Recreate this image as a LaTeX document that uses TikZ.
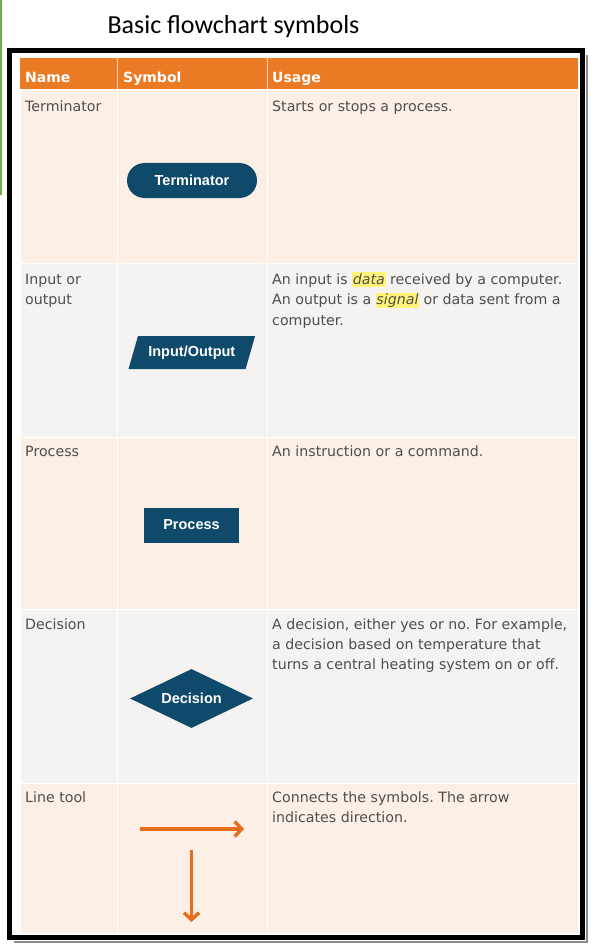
\documentclass[tikz,border=0pt]{standalone}
\usepackage{fontspec}
\setmainfont{DejaVu Sans}
\newfontfamily\titlefont{Carlito}
\newfontfamily\shapefont{Liberation Sans}
\usetikzlibrary{shapes.geometric,arrows.meta}
\frenchspacing
\definecolor{hdr}{RGB}{234,122,36}
\definecolor{peach}{RGB}{252,239,230}
\definecolor{lgray}{RGB}{244,243,241}
\definecolor{navy}{RGB}{16,74,106}
\definecolor{txt}{RGB}{78,78,78}
\definecolor{hly}{RGB}{255,244,120}
\definecolor{arrowc}{RGB}{232,110,30}
\definecolor{grn}{RGB}{112,173,71}
\newcommand\hlword[1]{{\setlength\fboxsep{0.6pt}\colorbox{hly}{\rule[-2pt]{0pt}{13.5pt}\itshape #1}}}
\tikzset{
  cellA/.style={fill=peach, draw=white, line width=1pt},
  cellB/.style={fill=lgray, draw=white, line width=1pt},
  hdrtext/.style={anchor=base west, text=white, inner sep=0pt, font=\bfseries\fontsize{14}{16}\selectfont},
  bodytext/.style={anchor=base west, text=txt, inner sep=0pt, align=left, font=\fontsize{14.2}{20.3}\selectfont},
  symb/.style={fill=navy, text=white, inner sep=0pt, font=\shapefont\bfseries\fontsize{14.5}{16}\selectfont},
  flowarrow/.style={draw=arrowc, line width=3.4pt, -{Straight Barb[length=7pt,width=15pt]}},
}
\begin{document}
\begin{tikzpicture}[x=1pt,y=-1pt]
\useasboundingbox (0,0) rectangle (590,944);
\fill[white] (0,0) rectangle (590,944);
% green edge
\draw[grn, line width=2pt] (1,0) -- (1,195);
% title
\node[font=\titlefont\fontsize{26}{30}\selectfont, text=black, anchor=base, inner sep=0pt] (title) at (233.5,34) {Basic flowchart symbols};
% frame shadow and frame
\draw[black!45, line width=2.5pt] (587,55) -- (587,942) -- (14,942);
\draw[black, line width=5pt] (9.5,50.5) rectangle (582.5,937.5);
% header
\fill[hdr] (20,58) rectangle (578,90);
\draw[white!70!hdr, line width=1pt] (117,58) -- (117,90) (267,58) -- (267,90);
\node[hdrtext] (hname) at (25,83) {Name};
\node[hdrtext] (hsym) at (123,83) {Symbol};
\node[hdrtext] (huse) at (272,83) {Usage};
% rows
\foreach \ya/\yb/\st in {90/263/cellA, 263/437/cellB, 437/609/cellA, 609/783/cellB, 783/933/cellA}{
  \path[\st] (20,\ya) rectangle (117,\yb);
  \path[\st] (117,\ya) rectangle (267,\yb);
  \path[\st] (267,\ya) rectangle (578,\yb);
}
% row 1 (multi-line nodes are placed at the baseline of their last line)
\node[bodytext] (n1) at (25,112) {Terminator};
\node[bodytext] (u1) at (272,112) {Starts or stops a process.};
\node[symb, rectangle, rounded corners=17.5pt, minimum width=130pt, minimum height=35pt] (term) at (192,180.5) {Terminator};
% row 2
\node[bodytext] (n2) at (25,304.8) {Input or\\output};
\node[bodytext] (u2) at (272,325.1) {An input is \hlword{data} received by a computer.\\An output is a \hlword{signal} or data sent from a\\computer.};
\coordinate (ioc) at (191.8,352.5);
\fill[navy] ([shift={(-63.3,16.5)}]ioc) -- ([shift={(-53.8,-16.5)}]ioc) -- ([shift={(63.3,-16.5)}]ioc) -- ([shift={(53.8,16.5)}]ioc) -- cycle;
\node[symb, fill=none] (io) at (ioc) {Input/Output};
% row 3
\node[bodytext] (n3) at (25,456.5) {Process};
\node[bodytext] (u3) at (272,456.5) {An instruction or a command.};
\node[symb, rectangle, minimum width=95pt, minimum height=35pt] (proc) at (191.5,525) {Process};
% row 4
\node[bodytext] (n4) at (25,629) {Decision};
\node[bodytext] (u4) at (272,669.6) {A decision, either yes or no. For example,\\a decision based on temperature that\\turns a central heating system on or off.};
\node[symb, diamond, minimum width=123pt, minimum height=59pt] (dec) at (191.5,698.5) {};
\node[symb, fill=none] (declabel) at (dec.center) {Decision};
% row 5
\node[bodytext] (n5) at (25,802.5) {Line tool};
\node[bodytext] (u5) at (272,822.8) {Connects the symbols. The arrow\\indicates direction.};
\coordinate (h1) at (140,829);
\coordinate (h2) at (244,829);
\coordinate (v1) at (191.5,850);
\coordinate (v2) at (191.5,922);
\draw[flowarrow] (h1) -- (h2);
\draw[flowarrow] (v1) -- (v2);
\end{tikzpicture}
\end{document}
